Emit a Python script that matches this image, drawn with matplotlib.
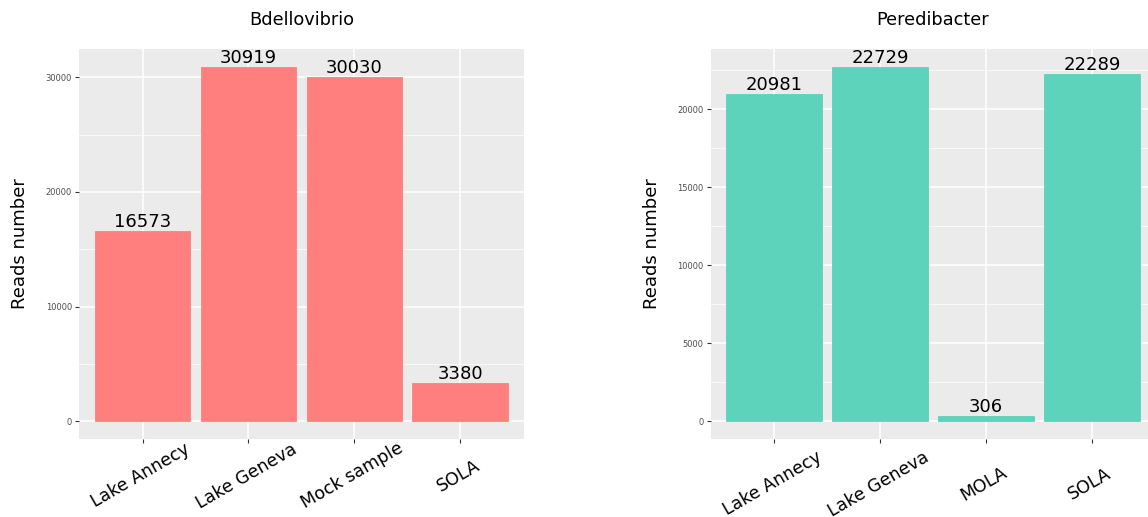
import matplotlib
matplotlib.use("Agg")
import matplotlib.pyplot as plt
import matplotlib.transforms as mtransforms
from matplotlib.ticker import MultipleLocator

# Data
left_title = "Bdellovibrio"
left_cats = ["Lake Annecy", "Lake Geneva", "Mock sample", "SOLA"]
left_vals = [16573, 30919, 30030, 3380]

right_title = "Peredibacter"
right_cats = ["Lake Annecy", "Lake Geneva", "MOLA", "SOLA"]
right_vals = [20981, 22729, 306, 22289]

y_label = "Reads number"

W, H = 1148, 517
fig = plt.figure(figsize=(W / 100, H / 100), dpi=100)
fig.patch.set_facecolor("white")


def px_axes(x0, y0, x1, y1):
    return fig.add_axes([x0 / W, 1 - y1 / H, (x1 - x0) / W, (y1 - y0) / H])


def draw(ax, cats, vals, color, title, major, minor, label_drop):
    xs = list(range(len(cats)))
    ax.set_facecolor("#EBEBEB")
    ax.bar(xs, vals, width=0.9, color=color, edgecolor=color, linewidth=0.6, zorder=3)
    ymax = max(vals)
    ax.set_ylim(-0.05 * ymax, 1.05 * ymax)
    ax.set_xlim(-0.6, len(cats) - 0.4)
    ax.yaxis.set_major_locator(MultipleLocator(major))
    ax.yaxis.set_minor_locator(MultipleLocator(minor))
    ax.grid(which="major", color="white", linewidth=1.1, zorder=0)
    ax.grid(which="minor", axis="y", color="white", linewidth=0.5, zorder=0)
    ax.set_axisbelow(True)
    for s in ax.spines.values():
        s.set_visible(False)
    ax.tick_params(axis="y", which="major", length=3, color="#333333", labelsize=6,
                   labelcolor="#4D4D4D", pad=2, width=0.8)
    ax.tick_params(axis="y", which="minor", length=0)
    ax.tick_params(axis="x", length=3, color="#333333", pad=2, width=0.8)
    ax.set_xticks(xs)
    ax.set_xticklabels([""] * len(cats))
    base = ax.get_xaxis_transform()
    offset = mtransforms.ScaledTranslation(-2 / 100, -label_drop / 100, fig.dpi_scale_trans)
    for x, c in zip(xs, cats):
        ax.text(x, 0, c, transform=base + offset, rotation=30, rotation_mode="anchor",
                ha="center", va="center", fontsize=12.5, color="black", clip_on=False)
    for x, v in zip(xs, vals):
        ax.text(x, v, f"{v}", ha="center", va="bottom", fontsize=13, color="black", zorder=4)
    ax.set_title(title, fontsize=12.8, pad=17.5, color="black")
    ax.set_ylabel(y_label, fontsize=13, labelpad=12)


ax1 = px_axes(79, 49, 523.6, 439)
draw(ax1, left_cats, left_vals, "#FF7F7F", left_title, 10000, 5000, 37)

ax2 = px_axes(710.5, 49, 1155.6, 439)
draw(ax2, right_cats, right_vals, "#5DD3BB", right_title, 5000, 2500, 45)

fig.savefig("out.png", dpi=100)
